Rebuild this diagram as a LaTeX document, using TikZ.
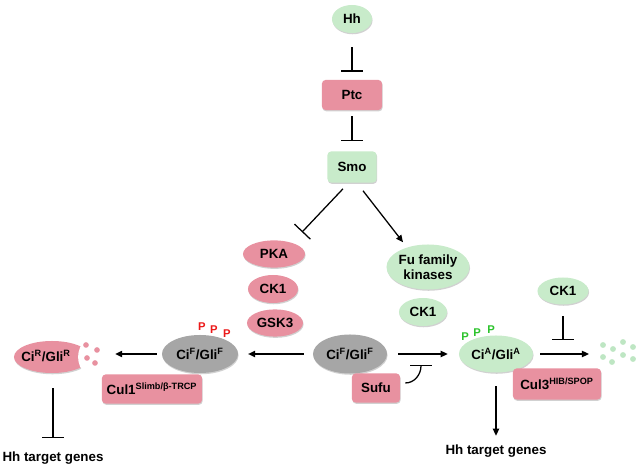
\documentclass[tikz,border=0pt]{standalone}
\usepackage{fontspec}
\setmainfont{Liberation Sans}
\usetikzlibrary{arrows.meta,shapes.geometric,shadows}
\definecolor{pinkfill}{RGB}{232,145,160}
\definecolor{greenfill}{RGB}{200,235,202}
\definecolor{grayfill}{RGB}{166,166,166}
\definecolor{pred}{RGB}{235,25,25}
\definecolor{pgreen}{RGB}{45,195,45}
\definecolor{dotgreen}{RGB}{190,230,195}
\newcommand\upx[1]{\textsuperscript{\fontsize{6.5}{7}\selectfont #1}}

\begin{document}
\begin{tikzpicture}[
  x=0.025cm, y=-0.025cm,
  font=\fontsize{9.5}{11}\selectfont\bfseries,
  sh/.style={drop shadow={shadow xshift=0.4pt, shadow yshift=-0.9pt, opacity=0.3, fill=black!60}},
  pbox/.style={rectangle, rounded corners=2.5pt, fill=pinkfill, inner sep=0pt, sh},
  gbox/.style={rectangle, rounded corners=2.5pt, fill=greenfill, inner sep=0pt, sh},
  pov/.style={ellipse, fill=pinkfill, inner sep=0pt, sh},
  gov/.style={ellipse, fill=greenfill, inner sep=0pt, sh, align=center},
  grov/.style={ellipse, fill=grayfill, inner sep=0pt, sh},
  inh/.style={line width=0.9pt, -{Bar[width=15.5pt, line width=0.9pt]}},
  act/.style={line width=0.9pt, -{Triangle[length=5pt, width=4.5pt]}},
  php/.style={font=\fontsize{8}{9}\selectfont\bfseries, text=pred, inner sep=0pt},
  phg/.style={font=\fontsize{8}{9}\selectfont\bfseries, text=pgreen, inner sep=0pt},
  genes/.style={inner sep=0pt}
]
\useasboundingbox (0,0) rectangle (640,465);

\node[gov, minimum width=1cm, minimum height=0.7cm] (hh) at (352,19) {Hh};
\node[pbox, minimum width=1.5cm, minimum height=0.75cm] (ptc) at (352,95) {Ptc};
\node[gbox, minimum width=1.225cm, minimum height=0.775cm] (smo) at (352,167) {Smo};

\node[pov, minimum width=1.55cm, minimum height=0.68cm] (pka) at (274,254) {PKA};
\node[pov, minimum width=1.25cm, minimum height=0.7cm] (ckA) at (273,289) {CK1};
\node[pov, minimum width=1.4cm, minimum height=0.68cm] (gsk) at (275,323) {GSK3};

\node[gov, minimum width=2.075cm, minimum height=1.125cm] (fu) at (428,267) {Fu family\\kinases};
\node[gov, minimum width=1.2cm, minimum height=0.7cm] (ckB) at (423,312) {CK1};

\node[pov, minimum width=1.9cm, minimum height=0.8cm] (ciR) at (52,357) {};
\fill[white] (102,357) circle[radius=17pt];
\node (ciRtxt) at (46,356) {Ci\upx{R}/Gli\upx{R}};
\foreach \px/\py in {86/345, 97/350, 87/358, 95/363}
  \fill[pinkfill] (\px,\py) circle[radius=2pt];

\node[grov, minimum width=1.9cm, minimum height=0.95cm] (ciP) at (200,354) {Ci\upx{F}/Gli\upx{F}};
\node[pbox, minimum width=2.5cm, minimum height=0.725cm] (cul1) at (152,389) {Cul1\upx{Slimb/β-TRCP}};
\node[php] (pL1) at (202,327) {P};
\node[php] (pL2) at (214,330) {P};
\node[php] (pL3) at (227,334) {P};

\node[grov, minimum width=1.85cm, minimum height=0.975cm] (ciF) at (350,354) {Ci\upx{F}/Gli\upx{F}};
\node[pbox, minimum width=1.2cm, minimum height=0.725cm] (sufu) at (376,388) {Sufu};

\node[gov, minimum width=1.85cm, minimum height=0.925cm] (ciA) at (496,354) {Ci\upx{A}/Gli\upx{A}};
\node[phg] (pR1) at (465,337) {P};
\node[phg] (pR2) at (477,333) {P};
\node[phg] (pR3) at (491,330) {P};
\node[gov, minimum width=1.275cm, minimum height=0.675cm] (ckC) at (563,291) {CK1};
\node[pbox, minimum width=2.2cm, minimum height=0.775cm] (cul3) at (557,384) {Cul3\upx{HIB/SPOP}};
\foreach \px/\py in {603/345, 613/349, 623/342, 633/347, 603/357, 612/362, 623/355, 633/359}
  \fill[dotgreen] (\px,\py) circle[radius=2.1pt];

\node[genes] (genesL) at (53,458) {Hh target genes};
\node[genes] (genesR) at (496,451) {Hh target genes};

\coordinate (sufuT) at (421,365);
\coordinate (dotsA) at (589,354);
\coordinate (ckT) at (563,340);

\draw[inh, shorten <=10pt, shorten >=5.7pt] (hh) -- (ptc);
\draw[inh, shorten <=4.3pt, shorten >=7.4pt] (ptc) -- (smo);
\draw[inh] ([shift={(-9,6)}]smo.south) -- ([shift={(28,-8)}]pka.north);
\draw[act] ([shift={(11,8)}]smo.south) -- ([shift={(-25,-2)}]fu.north);
\draw[act, shorten <=6.4pt, shorten >=7pt] (ciF) -- (ciP);
\draw[act, shorten <=3.5pt, shorten >=17.7pt] (ciP) -- (ciP -| ciR.east);
\draw[inh, shorten <=10.6pt, shorten >=9.7pt] (ciR.south -| genesL) -- (genesL);
\draw[act, shorten <=7.8pt, shorten >=7.8pt] (ciF) -- (ciA);
\draw[inh] ([shift={(5,-5)}]sufu.east) to[out=0, in=-90] (sufuT);
\draw[act, shorten <=5pt] (ciA) -- (dotsA);
\draw[inh, shorten <=8pt] (ckC) -- (ckT);
\draw[act, shorten <=9.6pt, shorten >=6.2pt] (ciA) -- (genesR);
\end{tikzpicture}
\end{document}
